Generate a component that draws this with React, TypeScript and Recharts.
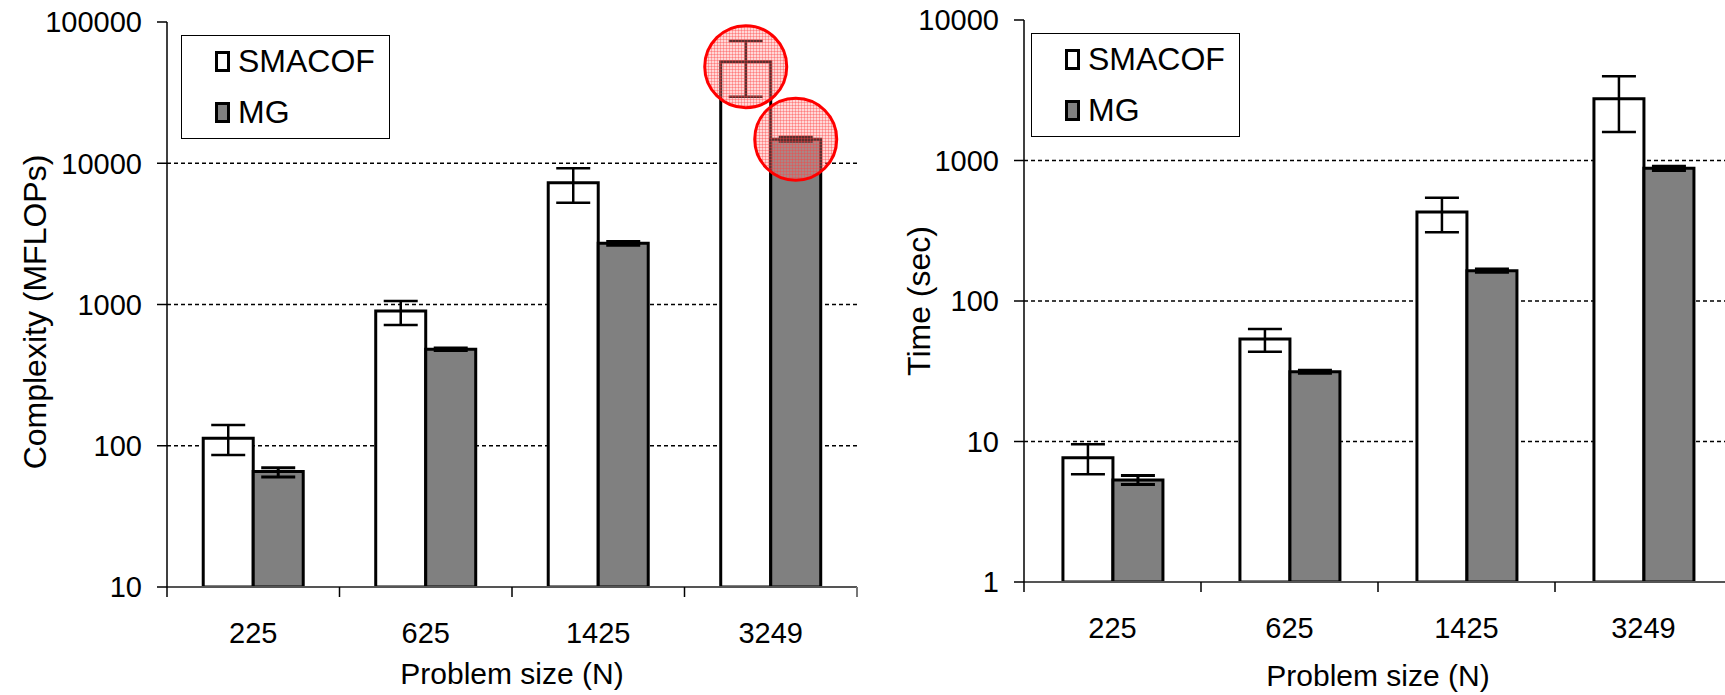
import React from 'react';
import { BarChart, Bar, XAxis, YAxis, ErrorBar, CartesianGrid, Legend, Label } from 'recharts';

const sizes = ['225', '625', '1425', '3249'];
const seriesNames = ['SMACOF', 'MG'];

// Complexity (MFLOPs)
const smacofFlops = [113, 899, 7280, 52400];
const smacofFlopsLow = [86, 716, 5260, 29600];
const smacofFlopsHigh = [140, 1059, 9210, 73400];
const mgFlops = [65.6, 482, 2710, 14800];
const mgFlopsLow = [60, 472, 2630, 14300];
const mgFlopsHigh = [70, 492, 2790, 15300];

// Time (sec)
const smacofTime = [7.67, 53.7, 430, 2754];
const smacofTimeLow = [5.85, 43.5, 308, 1596];
const smacofTimeHigh = [9.55, 63.3, 543, 3975];
const mgTime = [5.32, 31.4, 164, 880];
const mgTimeLow = [4.95, 30.6, 160, 850];
const mgTimeHigh = [5.72, 32.2, 169, 910];

const flopsTicks = [10, 100, 1000, 10000, 100000];
const timeTicks = [1, 10, 100, 1000, 10000];
const flopsGrid = [100, 1000, 10000];
const timeGrid = [10, 100, 1000];

// bars circled in red on the complexity chart
const circled = ['3249'];

const FONT = '"Liberation Sans", Arial, sans-serif';

function buildRows(a: number[], aLo: number[], aHi: number[], b: number[], bLo: number[], bHi: number[]) {
  return sizes.map((n, i) => ({
    n,
    smacof: a[i],
    smacofErr: [a[i] - aLo[i], aHi[i] - a[i]],
    mg: b[i],
    mgErr: [b[i] - bLo[i], bHi[i] - b[i]],
  }));
}

const flopsRows = buildRows(smacofFlops, smacofFlopsLow, smacofFlopsHigh, mgFlops, mgFlopsLow, mgFlopsHigh);
const timeRows = buildRows(smacofTime, smacofTimeLow, smacofTimeHigh, mgTime, mgTimeLow, mgTimeHigh);

const BandTick = (props: any) => {
  const { x, y, payload, index, visibleTicksCount } = props;
  const half = payload.offset || 88;
  const last = index === (visibleTicksCount ?? 4) - 1;
  return (
    <g>
      <line x1={x - half} x2={x - half} y1={y} y2={y + 10} stroke="#000" strokeWidth={1.5} />
      {last && <line x1={x + half} x2={x + half} y1={y} y2={y + 10} stroke="#777" strokeWidth={2} />}
      <text x={x} y={y + 56} textAnchor="middle" fontFamily={FONT} fontSize={29} fill="#000">
        {payload.value}
      </text>
    </g>
  );
};

const LegendBox = ({ payload }: any) => {
  const items = [...(payload || [])].sort(
    (a: any, b: any) => seriesNames.indexOf(a.value) - seriesNames.indexOf(b.value)
  );
  return (
    <div
      style={{
        width: 209,
        height: 104,
        boxSizing: 'border-box',
        border: '1.5px solid #000',
        background: '#fff',
        fontFamily: FONT,
        fontSize: 32,
        color: '#000',
        paddingTop: 0,
      }}
    >
      {items.map((e: any) => (
        <div key={e.value} style={{ display: 'flex', alignItems: 'center', height: 51, paddingLeft: 33 }}>
          <span
            style={{
              display: 'inline-block',
              width: 15,
              height: 21,
              boxSizing: 'border-box',
              border: '3px solid #000',
              background: e.color,
              marginRight: 8,
            }}
          />
          <span>{e.value}</span>
        </div>
      ))}
    </div>
  );
};

type PanelProps = {
  rows: any[];
  ticks: number[];
  grid: number[];
  yLabel: string;
  labelX: number;
  labelY: number;
  width: number;
  yAxisWidth: number;
  top: number;
  xAxisHeight: number;
  gap: string;
  legendLeft: number;
  legendTop: number;
  titleOffset: number;
  withCircles?: boolean;
};

function Panel(p: PanelProps) {
  const circle = (shift: number) => (props: any) => {
    const { x, y, width, index } = props;
    if (!p.withCircles || !circled.includes(p.rows[index]?.n)) return null;
    return (
      <circle
        cx={x + width / 2}
        cy={y + shift}
        r={41}
        fill="url(#pinkGrid)"
        stroke="#ff0000"
        strokeWidth={3}
      />
    );
  };

  return (
    <BarChart
      width={p.width}
      height={695}
      data={p.rows}
      margin={{ top: p.top, right: 13, bottom: 0, left: 0 }}
      barCategoryGap={p.gap}
      barGap={0}
    >
      <defs>
        <pattern id="pinkGrid" width="3" height="3" patternUnits="userSpaceOnUse">
          <rect width="3" height="3" fill="rgba(255,140,140,0.35)" />
          <path d="M0 0.5H3M0.5 0V3" stroke="rgba(255,60,60,0.35)" strokeWidth={1} />
        </pattern>
      </defs>
      <CartesianGrid
        vertical={false}
        horizontalValues={p.grid}
        stroke="#000"
        strokeWidth={1.5}
        strokeDasharray="4 3"
      />
      <XAxis
        dataKey="n"
        height={p.xAxisHeight}
        tickLine={false}
        tickSize={0}
        tickMargin={0}
        axisLine={{ stroke: '#555', strokeWidth: 2 }}
        tick={<BandTick />}
        interval={0}
      >
        <Label
          value="Problem size (N)"
          position="insideBottom"
          offset={p.titleOffset}
          style={{ fontFamily: FONT, fontSize: 30, fill: '#000' }}
        />
      </XAxis>
      <XAxis
        xAxisId="top"
        orientation="top"
        dataKey="n"
        height={0}
        tick={false}
        tickLine={false}
        axisLine={{ stroke: '#999', strokeWidth: 2.5 }}
      />
      <YAxis
        type="number"
        scale="log"
        domain={[p.ticks[0], p.ticks[p.ticks.length - 1]]}
        ticks={p.ticks}
        allowDataOverflow
        width={p.yAxisWidth}
        tickSize={10}
        tickMargin={15}
        tickLine={{ stroke: '#000', strokeWidth: 1.5 }}
        axisLine={{ stroke: '#000', strokeWidth: 1.5 }}
        tick={{ fontFamily: FONT, fontSize: 29, fill: '#000' }}
        tickFormatter={(v: number) => String(v)}
        interval={0}
      >
        <Label
          content={() => (
            <text
              x={p.labelX}
              y={p.labelY}
              transform={`rotate(-90, ${p.labelX}, ${p.labelY})`}
              textAnchor="middle"
              dominantBaseline="central"
              fontFamily={FONT}
              fontSize={32}
              fill="#000"
            >
              {p.yLabel}
            </text>
          )}
        />
      </YAxis>
      <YAxis
        yAxisId="right"
        orientation="right"
        type="number"
        domain={[0, 1]}
        width={0}
        tick={false}
        tickLine={false}
        axisLine={{ stroke: '#999', strokeWidth: 2.5 }}
      />
      <Legend
        layout="vertical"
        align="center"
        verticalAlign="middle"
        content={<LegendBox />}
        wrapperStyle={{ left: p.legendLeft, top: p.legendTop, width: 209, height: 104 }}
      />
      <Bar
        dataKey="smacof"
        name={seriesNames[0]}
        fill="#ffffff"
        stroke="#000"
        strokeWidth={3}
        isAnimationActive={false}
        label={circle(5)}
      >
        <ErrorBar dataKey="smacofErr" width={17} stroke="#000" strokeWidth={2.5} />
      </Bar>
      <Bar
        dataKey="mg"
        name={seriesNames[1]}
        fill="#808080"
        stroke="#000"
        strokeWidth={3}
        isAnimationActive={false}
        label={circle(0)}
      >
        <ErrorBar dataKey="mgErr" width={17} stroke="#000" strokeWidth={3} />
      </Bar>
    </BarChart>
  );
}

export default function App() {
  return (
    <div
      style={{
        position: 'absolute',
        left: 0,
        top: 0,
        width: 1725,
        height: 695,
        overflow: 'hidden',
        background: '#fff',
      }}
    >
      <div style={{ position: 'absolute', left: 0, top: 0 }}>
        <Panel
          rows={flopsRows}
          ticks={flopsTicks}
          grid={flopsGrid}
          yLabel="Complexity (MFLOPs)"
          labelX={35}
          labelY={312}
          width={870}
          yAxisWidth={167}
          top={22}
          xAxisHeight={108}
          gap="21%"
          legendLeft={181}
          legendTop={35}
          titleOffset={11}
          withCircles
        />
      </div>
      <div style={{ position: 'absolute', left: 860, top: 0 }}>
        <Panel
          rows={timeRows}
          ticks={timeTicks}
          grid={timeGrid}
          yLabel="Time (sec)"
          labelX={59}
          labelY={301}
          width={885}
          yAxisWidth={164}
          top={20}
          xAxisHeight={113}
          gap="22%"
          legendLeft={171}
          legendTop={33}
          titleOffset={9}
        />
      </div>
    </div>
  );
}
